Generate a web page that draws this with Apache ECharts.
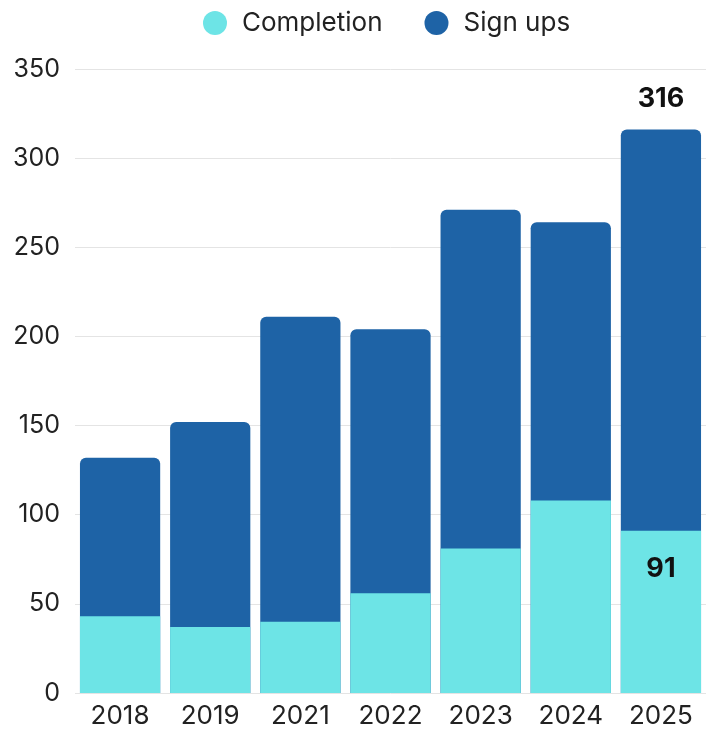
<!DOCTYPE html>
<html>
<head>
<meta charset="utf-8">
<script src="https://cdn.jsdelivr.net/npm/echarts@6/dist/echarts.min.js"></script>
<style>
  html, body { margin: 0; padding: 0; background: #ffffff; }
  #chart { width: 706px; height: 730px; }
</style>
</head>
<body>
<div id="chart"></div>
<script>
const categories = ['2018', '2019', '2021', '2022', '2023', '2024', '2025'];
const signUps = [132, 152, 211, 204, 271, 264, 316];
const completion = [43, 37, 40, 56, 81, 108, 91];
const yTicks = { min: 0, max: 350, interval: 50 };
const labelledIndex = 6;

const FONT = 'Inter';

const chart = echarts.init(document.getElementById('chart'), null, { renderer: 'canvas' });

chart.setOption({
  backgroundColor: '#ffffff',
  animation: false,
  textStyle: { fontFamily: FONT },
  legend: {
    data: ['Completion', 'Sign ups'],
    left: 198,
    top: 5,
    icon: 'circle',
    itemWidth: 24,
    itemHeight: 24,
    itemGap: 42,
    textStyle: { fontFamily: FONT, fontSize: 26, color: '#222222', padding: [0, 0, 0, 10] }
  },
  grid: { left: 75, top: 69, width: 636, height: 624, containLabel: false },
  xAxis: {
    type: 'category',
    data: categories,
    axisLine: { show: false },
    axisTick: { show: false },
    axisLabel: { fontFamily: FONT, fontSize: 26, color: '#222222', margin: 10 }
  },
  yAxis: {
    type: 'value',
    min: yTicks.min,
    max: yTicks.max,
    interval: yTicks.interval,
    axisLine: { show: false },
    axisTick: { show: false },
    axisLabel: { fontFamily: FONT, fontSize: 25, color: '#222222', margin: 15 },
    splitLine: { lineStyle: { color: '#e4e4e4', width: 1 } }
  },
  series: [
    {
      name: 'Sign ups',
      type: 'bar',
      data: signUps.map((v, i) => ({
        value: v,
        label: {
          show: i === labelledIndex,
          position: 'top',
          distance: 17,
          fontFamily: FONT,
          fontSize: 27,
          fontWeight: 'bold',
          color: '#111111'
        }
      })),
      barCategoryGap: '11%',
      barGap: '-100%',
      itemStyle: { color: '#1e63a6', borderRadius: [6, 6, 0, 0] },
      z: 2
    },
    {
      name: 'Completion',
      type: 'bar',
      data: completion.map((v, i) => ({
        value: v,
        label: {
          show: i === labelledIndex,
          position: 'insideTop',
          distance: 25,
          fontFamily: FONT,
          fontSize: 27,
          fontWeight: 'bold',
          color: '#111111'
        }
      })),
      barCategoryGap: '11%',
      barGap: '-100%',
      itemStyle: { color: '#6de4e6' },
      z: 3
    }
  ]
});
</script>
</body>
</html>
